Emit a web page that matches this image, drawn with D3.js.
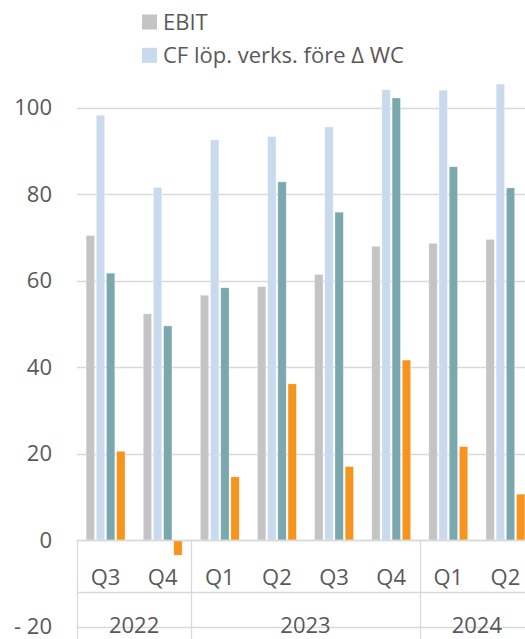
<!DOCTYPE html>
<html>
<head>
<meta charset="utf-8">
<script src="https://cdn.jsdelivr.net/npm/d3@7"></script>
<style>
  html, body { margin: 0; padding: 0; background: #fff; }
  svg { display: block; font-family: "Open Sans", "Noto Sans", sans-serif; }
</style>
</head>
<body>
<svg id="chart" width="525" height="639"></svg>
<script>
// Quarterly figures, 2022 Q3 – 2024 Q2
const quarters = ["Q3", "Q4", "Q1", "Q2", "Q3", "Q4", "Q1", "Q2"];
const years = [
  { label: "2022", from: 0, to: 2 },
  { label: "2023", from: 2, to: 6 },
  { label: "2024", from: 6, to: 8 }
];
const ebit =      [70.4, 52.3, 56.6, 58.6, 61.4, 67.9, 68.6, 69.5];
const cfBeforeWc = [98.2, 81.5, 92.5, 93.3, 95.5, 104.1, 104.0, 105.4];
const cfOperating = [61.7, 49.5, 58.3, 82.8, 75.8, 102.2, 86.3, 81.4];
const cfFree =     [20.5, -3.5, 14.6, 36.1, 17.0, 41.6, 21.6, 10.6];
const yTicks = [-20, 0, 20, 40, 60, 80, 100];

const seriesNames = ["EBIT", "CF löp. verks. före Δ WC", "CF löp. verks.", "Fritt CF"];
const seriesValues = [ebit, cfBeforeWc, cfOperating, cfFree];
const seriesColors = ["#c4c4c4", "#c9d9ee", "#7ba8ae", "#f7941d"];

const svg = d3.select("#chart");
const left = 77, right = 534;
const grid = "#d9d9d9", textColor = "#595959";
const fontSize = 22;

const y = d3.scaleLinear().domain([-20, 100]).range([626.5, 107.5]);

const x0 = d3.scaleBand()
  .domain(d3.range(quarters.length))
  .range([left, right])
  .paddingInner(0).paddingOuter(0);
const groupInset = 8.2;
const x1 = d3.scaleBand()
  .domain(d3.range(seriesValues.length))
  .range([groupInset, x0.bandwidth() - groupInset])
  .paddingInner(0.18).paddingOuter(0.09);

// Horizontal gridlines (value axis)
svg.append("g")
  .selectAll("line")
  .data(yTicks)
  .join("line")
  .attr("x1", left).attr("x2", 525)
  .attr("y1", d => Math.round(y(d)) + 0.5).attr("y2", d => Math.round(y(d)) + 0.5)
  .attr("stroke", grid).attr("stroke-width", 1.3);

// Value axis labels in accounting style
svg.append("g")
  .selectAll("text")
  .data(yTicks)
  .join("text")
  .attr("x", 52)
  .attr("y", d => y(d))
  .attr("dy", "0.35em")
  .attr("text-anchor", "end")
  .attr("fill", textColor)
  .attr("font-size", fontSize)
  .text(d => d < 0 ? "- " + Math.abs(d) : d);

// Bars
const groups = svg.append("g")
  .selectAll("g")
  .data(quarters.map((q, i) => i))
  .join("g")
  .attr("transform", i => `translate(${x0(i)},0)`);

groups.selectAll("rect")
  .data(i => seriesValues.map((vals, s) => ({ s, v: vals[i] })))
  .join("rect")
  .attr("x", d => x1(d.s))
  .attr("width", x1.bandwidth())
  .attr("y", d => y(Math.max(0, d.v)))
  .attr("height", d => Math.abs(y(d.v) - y(0)))
  .attr("fill", d => seriesColors[d.s])
  .attr("stroke", "#ffffff")
  .attr("stroke-opacity", 0.5)
  .attr("stroke-width", 0.6);

// Category axis: baseline, level divider, boundaries
const y0 = Math.round(y(0)) + 0.5;
const axis = svg.append("g").attr("stroke", grid).attr("stroke-width", 1.3);
axis.append("line").attr("x1", left).attr("x2", 525).attr("y1", y0).attr("y2", y0);
axis.append("line").attr("x1", left).attr("x2", 525).attr("y1", 592.5).attr("y2", 592.5);
const bounds = [0, ...years.map(d => d.to)];
axis.selectAll("line.b")
  .data(bounds)
  .join("line")
  .attr("class", "b")
  .attr("x1", d => Math.round(d === quarters.length ? right : x0(d)) + 0.5)
  .attr("x2", d => Math.round(d === quarters.length ? right : x0(d)) + 0.5)
  .attr("y1", y0).attr("y2", 639);

// Quarter labels
svg.append("g")
  .selectAll("text")
  .data(quarters)
  .join("text")
  .attr("x", (d, i) => x0(i) + x0.bandwidth() / 2)
  .attr("y", 577)
  .attr("dy", "0.35em")
  .attr("text-anchor", "middle")
  .attr("fill", textColor)
  .attr("font-size", fontSize)
  .text(d => d);

// Year labels
svg.append("g")
  .selectAll("text")
  .data(years)
  .join("text")
  .attr("x", d => (x0(d.from) + (d.to === quarters.length ? right : x0(d.to))) / 2)
  .attr("y", 625)
  .attr("dy", "0.35em")
  .attr("text-anchor", "middle")
  .attr("fill", textColor)
  .attr("font-size", fontSize)
  .text(d => d.label);

// Legend (first two series)
const legend = svg.append("g")
  .selectAll("g")
  .data([0, 1])
  .join("g")
  .attr("transform", (d, i) => `translate(142,${22 + i * 33.3})`);
legend.append("rect")
  .attr("x", 0).attr("y", -7.5)
  .attr("width", 15).attr("height", 15)
  .attr("fill", d => seriesColors[d]);
legend.append("text")
  .attr("x", 21).attr("y", 0)
  .attr("dy", "0.35em")
  .attr("fill", textColor)
  .attr("font-size", fontSize)
  .text(d => seriesNames[d]);
</script>
</body>
</html>
